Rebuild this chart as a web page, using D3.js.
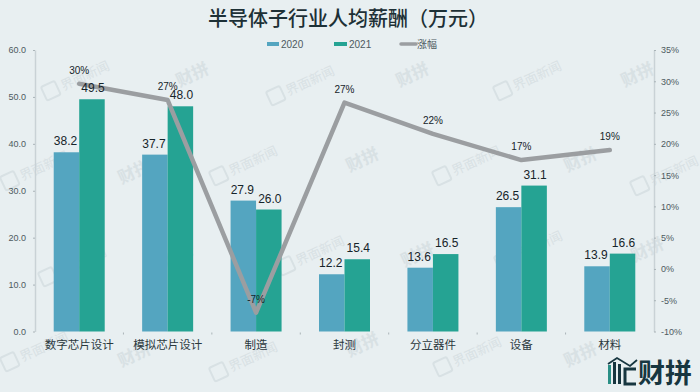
<!DOCTYPE html>
<html>
<head>
<meta charset="utf-8">
<script src="https://cdn.jsdelivr.net/npm/d3@7"></script>
<style>
  html, body { margin: 0; padding: 0; background: #e8eff1; }
  svg { display: block; }
  text { font-family: "Liberation Sans", "Noto Sans CJK SC", sans-serif; }
</style>
</head>
<body>
<div id="chart"></div>
<script>
// 数据
const categories = ['数字芯片设计', '模拟芯片设计', '制造', '封测', '分立器件', '设备', '材料'];
const years = ['2020', '2021'];
const values2020 = [38.2, 37.7, 27.9, 12.2, 13.6, 26.5, 13.9];
const values2021 = [49.5, 48.0, 26.0, 15.4, 16.5, 31.1, 16.6];
const growth = [29.6, 27.0, -7.0, 26.6, 21.6, 17.4, 19.0];
const leftTicks = [0, 10, 20, 30, 40, 50, 60];
const rightTicks = [-10, -5, 0, 5, 10, 15, 20, 25, 30, 35];

// 水印位置 [x, y]
const markNews = [[75, 80], [300, 85], [527, 80], [34, 170], [243, 165], [466, 165], [664, 175], [72, 266], [310, 255], [528, 250], [34, 351], [243, 361], [467, 356]];
const markCai = [[195, 80], [415, 80], [640, 80], [137, 177], [365, 165], [583, 165], [180, 260], [420, 260], [650, 255], [137, 360], [365, 350], [583, 360]];

const width = 700, height = 392;
const color2020 = '#54a5c0', color2021 = '#25a393', lineColor = '#9b9ea1', textDark = '#16242a', axisText = '#4d5a60';

const svg = d3.select('#chart').append('svg').attr('width', width).attr('height', height);

svg.append('rect').attr('width', width).attr('height', height).attr('fill', '#e8eff1');

const x = d3.scaleBand().domain(categories).range([35, 654]);
const xSub = d3.scaleBand().domain(years).range([x.bandwidth() / 2 - 25.5, x.bandwidth() / 2 + 25.5]);
const y = d3.scaleLinear().domain([0, 60]).range([331.5, 50]);
const yRight = d3.scaleLinear().domain([-10, 35]).range([331.5, 50]);

// 水印 (图形下层)
const marksNews = svg.append('g').selectAll('g').data(markNews).enter().append('g')
    .attr('transform', d => `translate(${d[0]},${d[1]}) rotate(-25)`);
marksNews.append('rect').attr('x', -34).attr('y', -8).attr('width', 15).attr('height', 15).attr('rx', 2)
    .attr('fill', 'none').attr('stroke', '#d8e1e4').attr('stroke-width', 2);
marksNews.append('text').attr('x', -15).attr('y', 5)
    .attr('font-size', 13).attr('fill', '#d8e1e4').text('界面新闻');
svg.append('g').selectAll('text').data(markCai).enter().append('text')
    .attr('transform', d => `translate(${d[0]},${d[1]}) rotate(-25)`)
    .attr('text-anchor', 'middle')
    .attr('font-size', 17).attr('font-weight', 700)
    .attr('fill', '#d8e1e4')
    .text('财拼');

// 标题
svg.append('text').attr('x', 348).attr('y', 26).attr('text-anchor', 'middle')
    .attr('font-size', 20).attr('font-weight', 500)
    .attr('font-family', '"Noto Sans CJK SC"').attr('fill', '#1d3036')
    .text('半导体子行业人均薪酬（万元）');

// 图例
const legend = svg.append('g').attr('font-size', 10).attr('fill', axisText);
legend.append('rect').attr('x', 267).attr('y', 42).attr('width', 12).attr('height', 4).attr('fill', color2020);
legend.append('text').attr('x', 281).attr('y', 48).text('2020');
legend.append('rect').attr('x', 334).attr('y', 42).attr('width', 13).attr('height', 4).attr('fill', color2021);
legend.append('text').attr('x', 349).attr('y', 48).text('2021');
legend.append('line').attr('x1', 401).attr('x2', 416).attr('y1', 44).attr('y2', 44)
    .attr('stroke', lineColor).attr('stroke-width', 3.5).attr('stroke-linecap', 'round');
legend.append('text').attr('x', 417).attr('y', 48).attr('font-family', '"Noto Sans CJK SC"').text('涨幅');

// 柱子
const seriesList = [
    { year: '2020', values: values2020, color: color2020 },
    { year: '2021', values: values2021, color: color2021 }
];
seriesList.forEach(s => {
    svg.append('g').selectAll('rect').data(s.values).enter().append('rect')
        .attr('x', (d, i) => x(categories[i]) + xSub(s.year))
        .attr('y', d => y(d))
        .attr('width', xSub.bandwidth())
        .attr('height', d => y(0) - y(d))
        .attr('fill', s.color);
});

// 折线
const line = d3.line()
    .x((d, i) => x(categories[i]) + x.bandwidth() / 2)
    .y(d => yRight(d));
svg.append('path').datum(growth)
    .attr('d', line)
    .attr('fill', 'none')
    .attr('stroke', lineColor)
    .attr('stroke-width', 4.5)
    .attr('stroke-linejoin', 'round')
    .attr('stroke-linecap', 'round');

// 坐标轴
const leftAxis = d3.axisLeft(y).tickValues(leftTicks).tickFormat(d3.format('.1f')).tickSize(2).tickSizeOuter(0).tickPadding(7);
const gLeft = svg.append('g').attr('transform', 'translate(35,0)').call(leftAxis);
const rightAxis = d3.axisRight(yRight).tickValues(rightTicks).tickFormat(d => d + '%').tickSize(2).tickSizeOuter(0).tickPadding(5);
const gRight = svg.append('g').attr('transform', 'translate(654,0)').call(rightAxis);
const bottomAxis = d3.axisBottom(x).tickSize(0).tickPadding(9);
const gBottom = svg.append('g').attr('transform', 'translate(0,331.5)').call(bottomAxis);

[gLeft, gRight].forEach(g => {
    g.selectAll('path.domain').attr('stroke', '#c9d2d6').attr('stroke-width', 1.5);
    g.selectAll('line').attr('stroke', '#aab4b8');
    g.selectAll('text').attr('font-size', 9).attr('fill', axisText)
        .attr('font-family', '"Liberation Sans"');
});
gBottom.select('path.domain').remove();
gBottom.selectAll('text').attr('font-size', 11.5).attr('fill', '#2b383d')
    .attr('font-family', '"Noto Sans CJK SC"');

// 类目分隔小刻度
gBottom.selectAll('line.sep').data(categories.slice(1)).enter().append('line')
    .attr('class', 'sep')
    .attr('x1', d => x(d)).attr('x2', d => x(d))
    .attr('y1', 1).attr('y2', 3)
    .attr('stroke', '#aab4b8');

// 数值标签
seriesList.forEach(s => {
    svg.append('g').selectAll('text').data(s.values).enter().append('text')
        .attr('x', (d, i) => x(categories[i]) + xSub(s.year) + xSub.bandwidth() / 2 - (s.year === '2020' ? 1 : -1))
        .attr('y', d => y(d) - 7)
        .attr('text-anchor', 'middle')
        .attr('font-size', 12)
        .attr('fill', textDark)
        .text(d => d3.format('.1f')(d));
});

// 涨幅标签
svg.append('g').selectAll('text').data(growth).enter().append('text')
    .attr('x', (d, i) => x(categories[i]) + x.bandwidth() / 2)
    .attr('y', d => yRight(d) - 10)
    .attr('text-anchor', 'middle')
    .attr('font-size', 10)
    .attr('fill', textDark)
    .text(d => Math.round(d) + '%');

// 右下角 logo
const logo = svg.append('g').attr('fill', '#173640');
logo.append('rect').attr('x', 608).attr('y', 365).attr('width', 3).attr('height', 19).attr('fill', '#2a8f86');
logo.append('rect').attr('x', 613).attr('y', 362).attr('width', 3).attr('height', 22);
logo.append('rect').attr('x', 618).attr('y', 364).attr('width', 3).attr('height', 20);
logo.append('path').attr('d', 'M608,364L617,358L630,366L637,360').attr('fill', 'none')
    .attr('stroke', '#173640').attr('stroke-width', 1.8);
logo.append('path').attr('d', 'M636,369H625V384H636').attr('fill', 'none')
    .attr('stroke', '#173640').attr('stroke-width', 3);
logo.append('text').attr('x', 665).attr('y', 383).attr('text-anchor', 'middle')
    .attr('font-size', 27).attr('font-weight', 700)
    .attr('font-family', '"Noto Sans CJK SC"').text('财拼');
</script>
</body>
</html>
